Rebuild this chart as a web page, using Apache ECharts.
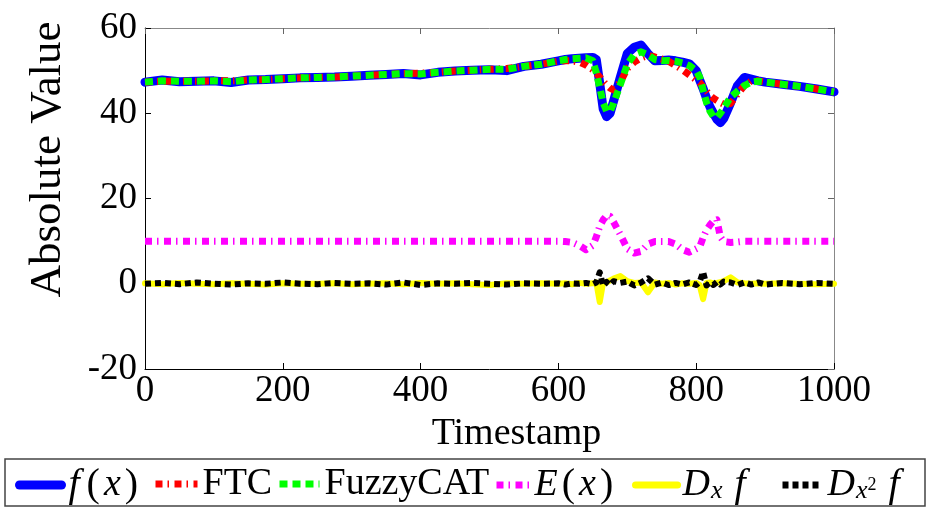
<!DOCTYPE html>
<html>
<head>
<meta charset="utf-8">
<title>Absolute Value vs Timestamp</title>
<script src="https://cdn.jsdelivr.net/npm/echarts@6/dist/echarts.min.js"></script>
<style>
  html, body { margin: 0; padding: 0; background: #fff; }
  #chart { width: 931px; height: 508px; }
</style>
</head>
<body>
<div id="chart"></div>
<script>
// ===== values =====
const timestamps = [
  0, 25, 50, 75, 100, 125, 150, 175, 200, 225, 250, 275, 300, 325, 350, 375, 400, 425, 450, 475, 500, 525, 550, 575, 600,
  610, 620, 630, 640, 650, 655, 660, 665, 670, 675, 680, 690, 700, 710, 720, 730, 740, 750, 760, 770, 780, 790, 800,
  805, 810, 815, 820, 825, 830, 835, 840, 850, 860, 870, 880, 890, 900,
  925, 950, 975, 1000
];

const fx = [
  47.3, 47.8, 47.4, 47.5, 47.6, 47.2, 47.8, 47.9, 48.1, 48.3, 48.4, 48.5, 48.7, 48.9, 49.1, 49.3, 49.0, 49.6, 49.9, 50.1, 50.2, 50.0, 51.0, 51.5, 52.3,
  52.6, 52.8, 52.9, 53.0, 53.1, 52.6, 47.0, 41.0, 39.2, 40.0, 42.8, 48.5, 54.0, 55.5, 56.0, 54.0, 52.3, 52.4, 52.5, 52.3, 52.0, 51.6, 50.0,
  47.8, 45.8, 43.5, 41.5, 40.0, 38.6, 37.8, 38.8, 42.5, 46.5, 48.4, 48.0, 47.6, 47.3,
  46.8, 46.3, 45.7, 45.0
];

const ftc = [
  47.3, 47.5, 47.5, 47.5, 47.6, 47.6, 47.8, 47.9, 48.1, 48.3, 48.4, 48.5, 48.7, 48.9, 49.1, 49.3, 49.4, 49.6, 49.9, 50.1, 50.3, 50.5, 51.0, 51.5, 52.2,
  52.3, 52.3, 52.0, 51.3, 50.2, 49.4, 48.5, 47.5, 46.6, 45.9, 45.5, 47.3, 50.5, 52.0, 53.0, 53.6, 53.2, 52.7, 52.2, 51.2, 50.2, 49.0, 47.8,
  47.2, 46.2, 45.2, 44.2, 43.5, 43.0, 42.5, 42.1, 42.3, 44.5, 46.5, 47.6, 47.6, 47.3,
  46.8, 46.3, 45.7, 45.0
];

const fuzzyCat = [
  47.3, 47.6, 47.5, 47.5, 47.6, 47.4, 47.8, 47.9, 48.1, 48.3, 48.4, 48.5, 48.7, 48.9, 49.1, 49.3, 49.2, 49.6, 49.9, 50.1, 50.3, 50.3, 51.0, 51.5, 52.3,
  52.6, 52.8, 52.9, 53.0, 52.3, 49.5, 46.0, 42.5, 40.5, 40.4, 42.3, 46.8, 51.5, 53.8, 54.4, 53.7, 52.6, 52.3, 52.4, 52.2, 51.8, 51.2, 50.0,
  48.5, 45.5, 42.5, 40.5, 39.2, 39.0, 40.0, 41.2, 43.8, 45.2, 46.5, 47.3, 47.5, 47.3,
  46.8, 46.3, 45.7, 45.0
];

const ex = [
  10, 10, 10, 10, 10, 10, 10, 10, 10, 10, 10, 10, 10, 10, 10, 10, 10, 10, 10, 10, 10, 10, 10, 10, 10,
  9.9, 9.7, 9.0, 8.0, 9.0, 11.0, 13.5, 15.0, 16.0, 15.8, 14.5, 11.5, 8.2, 7.2, 7.6, 9.3, 9.9, 9.9, 9.9, 9.3, 8.0, 7.4, 8.2,
  8.6, 10.8, 12.6, 13.8, 14.7, 15.0, 11.0, 9.9, 9.7, 9.8, 10, 10, 10, 10,
  10, 10, 10, 10
];

const dxf = [
  0.1, -0.1, 0.2, 0, -0.1, 0.1, 0, -0.2, 0.1, 0, 0, 0.1, -0.1, 0, 0.1, -0.1, 0.2, 0, 0.1, -0.1, -0.3, 0.1, 0, 0.1, 0,
  0.1, -0.1, 0.2, 0, 0.1, 0.3, -4.3, 0.4, 0.3, 0.8, 1.2, 1.8, 0.6, 0.2, 0.3, -2.0, 0.3, 0, 0.2, -0.2, 0.1, 0, 0.2,
  -0.3, -3.6, 0.2, 0.3, 0.1, 0.2, 0.4, 0.6, 1.5, 0.3, 0.1, 0, 0.1, 0,
  0.1, 0, -0.1, 0
];

const dx2f = [
  0, 0.2, -0.1, 0.3, 0, -0.2, 0.1, 0, 0.3, 0, -0.1, 0.2, 0, 0.1, -0.2, 0.3, -0.3, 0.1, 0, 0.2, 0, -0.2, 0.1, 0, 0.1,
  -0.2, 0.1, 0, 0.2, -0.1, 0.3, 2.7, -0.5, 0.4, -0.3, 0.6, 0.2, 0.5, -0.4, 0.3, 1.3, -0.2, 0.3, -0.3, 0.2, -0.2, 0.3, -0.3,
  0.4, 2.8, -0.4, 0.3, -0.3, 0.4, -0.2, 0.5, 0.3, -0.3, 0.3, -0.2, 0.3, -0.2,
  0.2, -0.1, 0.2, 0
];

const xRange = [0, 1000, 200];
const yRange = [-20, 60, 20];

const SERIF = "'Liberation Serif', 'DejaVu Serif', serif";

// build one line series from a value array
const makeLine = (name, values, color, width, dash) => ({
  name,
  type: "line",
  data: timestamps.map((t, i) => [t, values[i]]),
  symbol: "none",
  showSymbol: false,
  lineStyle: { color, width, type: dash, cap: dash === "solid" ? "round" : "butt", join: "round" },
  itemStyle: { color },
  emphasis: { disabled: true },
});

// legend labels with math italics / subscripts
const legendText = {
  "f(x)": "{f|f}{p|(}{it|x}{p|)}",
  "FTC": "{n|FTC}",
  "FuzzyCAT": "{n|FuzzyCAT}",
  "E(x)": "{it|E}{p|(}{it|x}{p|)}",
  "Dxf": "{it|D}{sub|x}{f2|f}",
  "Dx2f": "{it|D}{sub|x}{sup|2}{f2|f}",
};

const legendRich = {
  it: { fontFamily: SERIF, fontStyle: "italic", fontSize: 38, lineHeight: 38, color: "#000" },
  f: { fontFamily: SERIF, fontStyle: "italic", fontSize: 40, lineHeight: 38, color: "#000", padding: [0, 3, 0, 2] },
  f2: { fontFamily: SERIF, fontStyle: "italic", fontSize: 40, lineHeight: 38, color: "#000", padding: [0, 0, 0, 12] },
  p: { fontFamily: SERIF, fontSize: 40, lineHeight: 38, color: "#000", padding: [0, 4, 0, 4] },
  n: { fontFamily: SERIF, fontSize: 38, lineHeight: 38, color: "#000" },
  sub: { fontFamily: SERIF, fontStyle: "italic", fontSize: 26, lineHeight: 12, verticalAlign: "bottom", color: "#000", padding: [0, 0, 0, 1] },
  sup: { fontFamily: SERIF, fontSize: 18, lineHeight: 18, verticalAlign: "middle", color: "#000" },
};

const makeLegend = (name, left, width, lineWidth) => ({
  data: [name],
  left,
  top: 465,
  padding: 0,
  itemGap: 0,
  itemWidth: width,
  itemHeight: 14,
  selectedMode: false,
  itemStyle: { opacity: 0 },
  lineStyle: { width: lineWidth },
  formatter: (n) => legendText[n],
  textStyle: { rich: legendRich },
});

const chart = echarts.init(document.getElementById("chart"), null, { renderer: "canvas" });

const option = {
  animation: false,
  backgroundColor: "#fff",
  grid: { left: 145, right: 97, top: 28, bottom: 139 },
  graphic: [
    {
      type: "rect",
      shape: { x: 5, y: 459, width: 920, height: 47 },
      style: { fill: "none", stroke: "#444", lineWidth: 1.5 },
      silent: true,
    },
  ],
  legend: [
    makeLegend("f(x)", 15, 42, 9),
    makeLegend("FTC", 152, 42, 7),
    makeLegend("FuzzyCAT", 276, 40, 7),
    makeLegend("E(x)", 493, 33, 7),
    makeLegend("Dxf", 632, 42, 7),
    makeLegend("Dx2f", 779, 40, 7),
  ],
  xAxis: [
    {
      type: "value",
      min: xRange[0],
      max: xRange[1],
      interval: xRange[2],
      name: "Timestamp",
      nameLocation: "middle",
      nameGap: 44,
      nameTextStyle: { fontFamily: SERIF, fontSize: 38, color: "#000", padding: [0, 0, 0, 54] },
      axisLine: { show: true, onZero: false, lineStyle: { color: "#000", width: 1 } },
      axisTick: { show: true, inside: true, length: 6, lineStyle: { color: "#000" } },
      axisLabel: { fontFamily: SERIF, fontSize: 37, color: "#000", margin: 4, formatter: (v) => String(v) },
      splitLine: { show: false },
    },
    {
      type: "value",
      position: "top",
      min: xRange[0],
      max: xRange[1],
      interval: xRange[2],
      axisLine: { show: true, onZero: false, lineStyle: { color: "#888", width: 1 } },
      axisTick: { show: true, inside: true, length: 6, lineStyle: { color: "#666" } },
      axisLabel: { show: false },
      splitLine: { show: false },
    },
  ],
  yAxis: [
    {
      type: "value",
      min: yRange[0],
      max: yRange[1],
      interval: yRange[2],
      name: "Absolute Value",
      nameLocation: "middle",
      nameGap: 74,
      nameTextStyle: { fontFamily: SERIF, fontSize: 45, color: "#000", padding: [0, 0, 0, 78] },
      axisLine: { show: true, onZero: false, lineStyle: { color: "#000", width: 1 } },
      axisTick: { show: true, inside: true, length: 6, lineStyle: { color: "#000" } },
      axisLabel: { fontFamily: SERIF, fontSize: 37, color: "#000", margin: 8, formatter: (v) => String(v) },
      splitLine: { show: false },
    },
    {
      type: "value",
      position: "right",
      min: yRange[0],
      max: yRange[1],
      interval: yRange[2],
      axisLine: { show: true, onZero: false, lineStyle: { color: "#888", width: 1 } },
      axisTick: { show: true, inside: true, length: 6, lineStyle: { color: "#666" } },
      axisLabel: { show: false },
      splitLine: { show: false },
    },
  ],
  series: [
    makeLine("f(x)", fx, "#0000ff", 9, "solid"),
    makeLine("FTC", ftc, "#ff0000", 7, [7, 5, 1.5, 5.5]),
    makeLine("FuzzyCAT", fuzzyCat, "#00ff00", 7, [8, 5]),
    makeLine("E(x)", ex, "#ff00ff", 7, [7, 5, 1.5, 5.5]),
    makeLine("Dxf", dxf, "#ffff00", 6, "solid"),
    makeLine("Dx2f", dx2f, "#000000", 6, [6, 4]),
  ],
};

chart.setOption(option);
</script>
</body>
</html>
